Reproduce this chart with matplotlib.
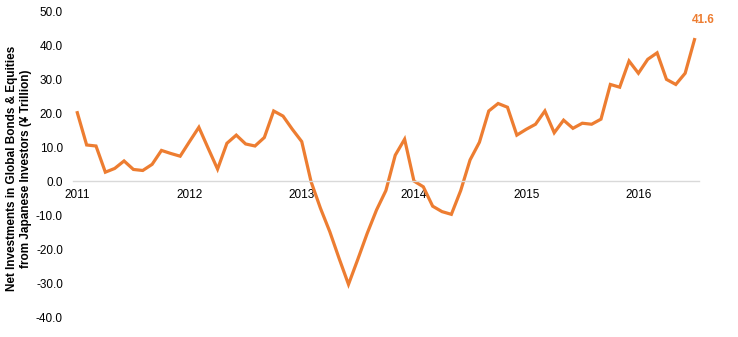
import matplotlib
matplotlib.use('Agg')
import matplotlib.pyplot as plt
import numpy as np

# monthly values, Jan 2011 .. Jul 2016 (Yen trillion)
values = [20.1, 10.6, 10.3, 2.6, 3.7, 5.9, 3.4, 3.1, 4.9, 9.0, 8.1, 7.3,
          11.6, 15.8, 9.6, 3.5, 11.1, 13.5, 10.9, 10.3, 12.8, 20.6, 19.1, 15.2,
          11.6, -0.2, -8.0, -14.9, -22.8, -30.4, -23.0, -15.4, -8.5, -2.8, 7.6, 12.3,
          0.0, -1.7, -7.4, -9.0, -9.8, -2.8, 6.2, 11.4, 20.6, 22.8, 21.7, 13.5,
          15.2, 16.7, 20.6, 14.2, 17.9, 15.5, 17.0, 16.7, 18.2, 28.4, 27.6, 35.3,
          31.7, 35.8, 37.7, 29.9, 28.4, 31.7, 41.6]
years = ['2011', '2012', '2013', '2014', '2015', '2016']
last_label = '41.6'

orange = '#ED7D31'
plt.rcParams['font.family'] = ['Liberation Sans', 'DejaVu Sans']

fig = plt.figure(figsize=(7.38, 3.37), dpi=100)
ax = fig.add_axes([0.0984, 0.0593, 0.849, 0.908])

x = np.arange(len(values))
ax.plot(x, values, color=orange, linewidth=2.3, solid_joinstyle='miter')
ax.annotate(last_label, (x[-1], values[-1]), xytext=(6, 10), textcoords='offset points',
            color=orange, fontsize=8.5, fontweight='bold', ha='center', va='bottom')

ax.set_xlim(-0.5, len(values) - 0.5)
ax.set_ylim(-40, 50)
ax.set_yticks(np.arange(-40, 51, 10))
ax.set_yticklabels(['%.1f' % v for v in np.arange(-40, 51, 10)])
ax.set_xticks(np.arange(0, len(values), 12))
ax.set_xticklabels(years)

for s in ['top', 'right', 'left']:
    ax.spines[s].set_visible(False)
ax.spines['bottom'].set_position(('data', 0))
ax.spines['bottom'].set_color('#d9d9d9')
ax.spines['bottom'].set_linewidth(1.0)
ax.tick_params(axis='both', length=0, labelsize=8.5, colors='#000000')
ax.tick_params(axis='y', pad=7)
ax.tick_params(axis='x', pad=6)

fig.text(19 / 738, 0.5, 'Net Investments in Global Bonds & Equities\nfrom Japanese Investors (¥ Trillion)',
         rotation=90, ha='center', va='center', fontsize=8.5, fontweight='bold',
         linespacing=1.2)

fig.savefig('out.png', dpi=100)
